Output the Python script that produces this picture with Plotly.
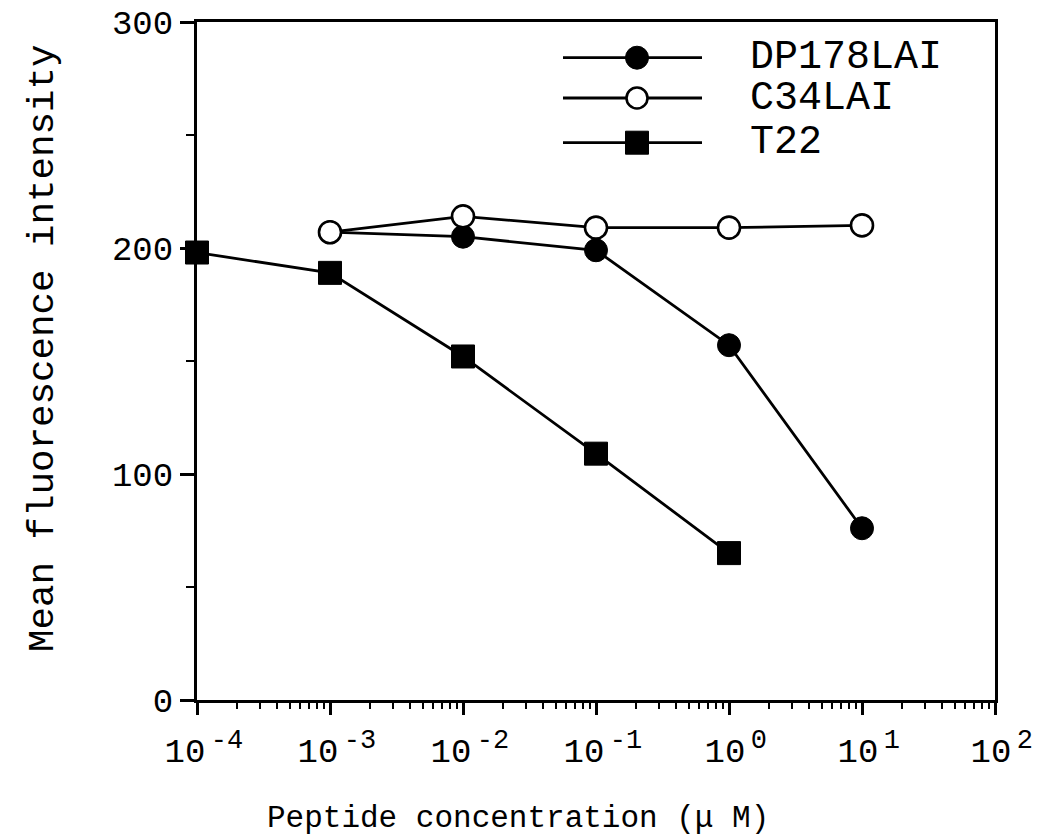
import plotly.graph_objects as go

# ---- data ----
conc = [1e-4, 1e-3, 1e-2, 1e-1, 1e0, 1e1]          # peptide concentration (uM)
dp178_x = [1e-3, 1e-2, 1e-1, 1e0, 1e1]
dp178_y = [207, 205, 199, 157, 76]
c34_x = [1e-3, 1e-2, 1e-1, 1e0, 1e1]
c34_y = [207, 214, 209, 209, 210]
t22_x = [1e-4, 1e-3, 1e-2, 1e-1, 1e0]
t22_y = [198, 189, 152, 109, 65]

series_names = ["DP178LAI", "C34LAI", "T22"]
x_tick_vals = [1e-4, 1e-3, 1e-2, 1e-1, 1e0, 1e1, 1e2]
x_tick_exps = ["-4", "-3", "-2", "-1", "0", "1", "2"]
y_tick_vals = [0, 100, 200, 300]
x_title = "Peptide concentration (\u03bc M)"
y_title = "Mean fluorescence intensity"

FONT = "Liberation Mono, Courier New, monospace"
LW = 2.8
MS = 23

x_tick_text = ["\u2009\u200910<sup><span style='font-size:27px'>\u2009%s</span></sup>" % e
               for e in x_tick_exps]

fig = go.Figure()

fig.add_trace(go.Scatter(
    x=dp178_x, y=dp178_y, mode="lines+markers", name=series_names[0],
    line=dict(color="black", width=LW),
    marker=dict(symbol="circle", size=MS, color="black", opacity=1, line=dict(color="black", width=1)),
    cliponaxis=False, showlegend=False))
fig.add_trace(go.Scatter(
    x=c34_x, y=c34_y, mode="lines+markers", name=series_names[1],
    line=dict(color="black", width=LW),
    marker=dict(symbol="circle", size=MS - 1, color="white", opacity=1, line=dict(color="black", width=2.6)),
    cliponaxis=False, showlegend=False))
fig.add_trace(go.Scatter(
    x=t22_x, y=t22_y, mode="lines+markers", name=series_names[2],
    line=dict(color="black", width=LW),
    marker=dict(symbol="square", size=MS, color="black", opacity=1, line=dict(color="black", width=1)),
    cliponaxis=False, showlegend=False))

# ---- hand-drawn style legend on a helper (pixel) axis ----
leg_rows = [57.7, 98, 142.7]
leg_line_x = [563, 702]
leg_marker_x = 637
leg_marker = [
    dict(symbol="circle", size=MS, color="black", opacity=1, line=dict(color="black", width=1)),
    dict(symbol="circle", size=MS - 2, color="white", opacity=1, line=dict(color="black", width=2.6)),
    dict(symbol="square", size=MS, color="black", opacity=1, line=dict(color="black", width=1)),
]
for i, name in enumerate(series_names):
    fig.add_trace(go.Scatter(
        x=leg_line_x, y=[leg_rows[i]] * 2, mode="lines",
        line=dict(color="black", width=LW),
        xaxis="x2", yaxis="y2", showlegend=False, hoverinfo="skip", cliponaxis=False))
    fig.add_trace(go.Scatter(
        x=[leg_marker_x], y=[leg_rows[i]], mode="markers", marker=leg_marker[i],
        xaxis="x2", yaxis="y2", showlegend=False, hoverinfo="skip", cliponaxis=False))
    fig.add_annotation(x=748, y=leg_rows[i], xref="x2", yref="y2", text=name,
                       showarrow=False, xanchor="left", yanchor="middle",
                       font=dict(family=FONT, size=40, color="black"))

# axis titles (placed as in the reference, which is off-centre)
fig.add_annotation(x=0.4023, y=-0.1755, xref="paper", yref="paper", text=x_title,
                   showarrow=False, xanchor="center", yanchor="middle",
                   font=dict(family=FONT, size=31, color="black"))
fig.add_annotation(x=-0.193, y=0.519, xref="paper", yref="paper", text=y_title,
                   showarrow=False, textangle=-90, xanchor="center", yanchor="middle",
                   font=dict(family=FONT, size=37.5, color="black"))

fig.update_layout(
    width=1043, height=836,
    margin=dict(l=197, r=48, t=22, b=136, autoexpand=False),
    paper_bgcolor="white", plot_bgcolor="white",
    font=dict(family=FONT, color="black"),
    xaxis=dict(
        type="log", range=[-4, 2], automargin=False,
        tickmode="array", tickvals=x_tick_vals, ticktext=x_tick_text,
        ticks="outside", ticklen=12, tickwidth=2.5, tickcolor="black",
        ticklabelstandoff=6,
        minor=dict(ticks="outside", ticklen=6, tickwidth=2, tickcolor="black",
                   tickvals=[m * 10.0 ** k for k in range(-4, 2) for m in range(2, 10)]),
        showline=True, linewidth=3, linecolor="black", mirror=True,
        showgrid=False, zeroline=False,
        tickfont=dict(family=FONT, size=34, color="black"),
    ),
    yaxis=dict(
        range=[0, 300], automargin=False,
        tickmode="array", tickvals=y_tick_vals,
        ticks="outside", ticklen=14, tickwidth=2.5, tickcolor="black",
        minor=dict(ticks="outside", ticklen=8, tickwidth=2, tickcolor="black", dtick=50),
        showline=True, linewidth=3, linecolor="black", mirror=True,
        showgrid=False, zeroline=False,
        tickfont=dict(family=FONT, size=34, color="black"),
    ),
    xaxis2=dict(overlaying="x", anchor="y2", range=[197, 995], visible=False),
    yaxis2=dict(overlaying="y", anchor="x2", range=[700, 22], visible=False),
)

fig.write_html("out.html")
